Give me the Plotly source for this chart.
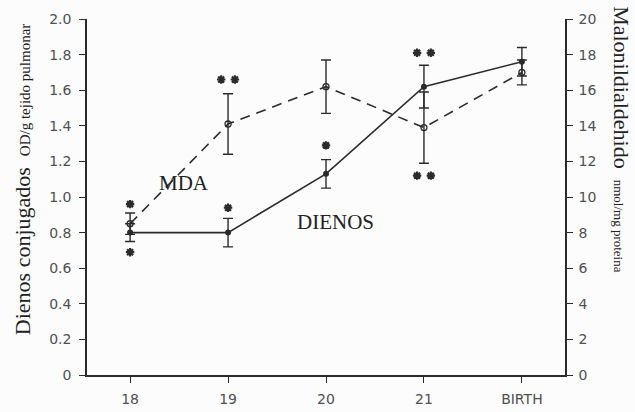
import plotly.graph_objects as go

# ---- data ----
categories = ["18", "19", "20", "21", "BIRTH"]
x_pos = [18, 19, 20, 21, 22]

dienos = [0.80, 0.80, 1.13, 1.62, 1.76]          # OD/g tejido pulmonar (left axis)
dienos_err = [0.05, 0.08, 0.08, 0.12, 0.08]

mda = [8.5, 14.1, 16.2, 13.9, 17.0]              # nmol/mg proteina (right axis)
mda_err = [0.6, 1.7, 1.5, 2.0, 0.7]

# significance asterisks (x, y on left axis scale)
star_x = [18, 18, 19, 18.93, 19.07, 20, 20.93, 21.07, 20.93, 21.07]
star_y = [0.96, 0.69, 0.94, 1.66, 1.66, 1.29, 1.81, 1.81, 1.12, 1.12]

left_ticks = [0, 0.2, 0.4, 0.6, 0.8, 1.0, 1.2, 1.4, 1.6, 1.8, 2.0]
left_ticktext = ["0", "0.2", "0.4", "0.6", "0.8", "1.0", "1.2", "1.4", "1.6", "1.8", "2.0"]
right_ticks = [0, 2, 4, 6, 8, 10, 12, 14, 16, 18, 20]

ink = "#2b2b2b"
tickfont = dict(family="DejaVu Sans, Arial, sans-serif", size=14, color="#505050")
serif = "Liberation Serif, Times New Roman, serif"

fig = go.Figure()

fig.add_trace(go.Scatter(
    x=x_pos, y=dienos, mode="lines+markers", name="DIENOS",
    line=dict(color=ink, width=1.6),
    marker=dict(symbol="circle", size=6, color=ink),
    error_y=dict(type="data", array=dienos_err, color=ink, thickness=1.4, width=5),
    yaxis="y", showlegend=False,
))

fig.add_trace(go.Scatter(
    x=x_pos, y=mda, mode="lines+markers", name="MDA",
    line=dict(color=ink, width=1.6, dash="10px,7px"),
    marker=dict(symbol="circle-open", size=6, color=ink, line=dict(width=1.3)),
    error_y=dict(type="data", array=mda_err, color=ink, thickness=1.4, width=5),
    yaxis="y2", showlegend=False,
))

fig.add_trace(go.Scatter(
    x=star_x, y=star_y, mode="markers",
    marker=dict(symbol="asterisk-open", size=7, color=ink, line=dict(width=2.2, color=ink)),
    yaxis="y", showlegend=False, hoverinfo="skip",
))

fig.update_layout(
    width=635, height=412,
    margin=dict(l=87, r=70, t=19, b=37),
    paper_bgcolor="#fcfcfc", plot_bgcolor="#fcfcfc",
    xaxis=dict(
        range=[17.56, 22.44], tickvals=x_pos, ticktext=categories, automargin=False,
        showgrid=False, zeroline=False, showline=True, linecolor=ink, linewidth=1.6,
        ticks="outside", ticklen=6, tickcolor=ink, tickfont=tickfont, ticklabelstandoff=4,
    ),
    yaxis=dict(
        range=[0, 2.0], tickvals=left_ticks, ticktext=left_ticktext, automargin=False,
        showgrid=False, zeroline=False, showline=True, linecolor=ink, linewidth=1.6,
        ticks="outside", ticklen=6, tickcolor=ink, tickfont=tickfont, ticklabelstandoff=5,
    ),
    yaxis2=dict(
        range=[0, 20], tickvals=right_ticks, overlaying="y", side="right", automargin=False,
        showgrid=False, zeroline=False, showline=True, linecolor=ink, linewidth=1.6,
        ticks="outside", ticklen=6, tickcolor=ink, tickfont=tickfont, ticklabelstandoff=3,
    ),
    annotations=[
        dict(text="Dienos conjugados  <span style='font-size:15px'>OD/g tejido pulmonar</span>",
             xref="paper", yref="paper", x=-0.136, y=0.55, xanchor="center", yanchor="middle",
             textangle=-90, showarrow=False, font=dict(family=serif, size=22, color="#222")),
        dict(text="Malonildialdehido  <span style='font-size:13px'>nmol/mg proteina</span>",
             xref="paper", yref="paper", x=1.119, y=0.66, xanchor="center", yanchor="middle",
             textangle=90, showarrow=False, font=dict(family=serif, size=22, color="#222")),
        dict(text="MDA", xref="x", yref="y", x=18.55, y=1.08, showarrow=False,
             font=dict(family=serif, size=21, color="#222")),
        dict(text="DIENOS", xref="x", yref="y", x=20.1, y=0.86, showarrow=False,
             font=dict(family=serif, size=21, color="#222")),
    ],
)

fig.write_html("out.html")
